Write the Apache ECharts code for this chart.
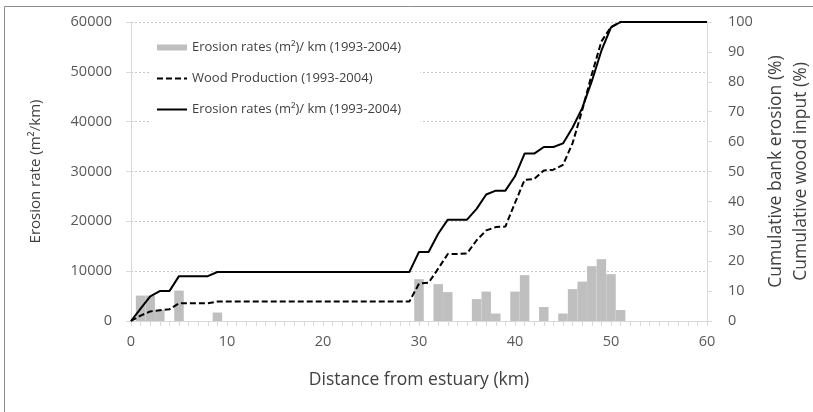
<!DOCTYPE html>
<html>
<head>
<meta charset="utf-8">
<script src="https://cdn.jsdelivr.net/npm/echarts@6/dist/echarts.min.js"></script>
<style>
  html, body { margin: 0; padding: 0; background: #fff; }
  #main { width: 813px; height: 412px; }
</style>
</head>
<body>
<div id="main"></div>
<script>
// distance from estuary (km) for the cumulative curves
const distKm = [0,1,2,3,4,5,6,7,8,9,10,11,12,13,14,15,16,17,18,19,20,21,22,23,24,25,26,27,28,29,30,
  31,32,33,34,35,36,37,38,39,40,41,42,43,44,45,46,47,48,49,50,51,52,53,54,55,56,57,58,59,60];

// erosion rate bars (m2/km)
const barKm = [1,2,3,5,9,30,32,33,36,37,38,40,41,43,45,46,47,48,49,50,51];
const barValues = [5100,5100,2200,6100,1700,8400,7400,5800,4400,5900,1500,5900,9200,2800,1500,6400,7900,11000,12400,9400,2200];

// cumulative wood input (%)
const woodCum = [0,1.8,3.2,3.6,3.9,5.9,5.9,5.9,5.9,6.5,
  6.5,6.5,6.5,6.5,6.5,6.5,6.5,6.5,6.5,6.5,6.5,6.5,6.5,6.5,6.5,6.5,6.5,6.5,6.5,6.5,
  12.5,12.8,17.5,22.4,22.4,22.6,27.0,30.3,31.4,31.6,39.5,47.2,47.5,50.3,50.6,52.2,59.5,70.5,82.5,93.5,98.3,100,
  100,100,100,100,100,100,100,100,100];

// cumulative bank erosion (%)
const erosionCum = [0,4.1,8.2,10.0,10.0,15.0,15.0,15.0,15.0,16.4,
  16.4,16.4,16.4,16.4,16.4,16.4,16.4,16.4,16.4,16.4,16.4,16.4,16.4,16.4,16.4,16.4,16.4,16.4,16.4,16.4,
  23.1,23.1,29.2,33.9,33.9,33.9,37.5,42.3,43.6,43.6,48.4,56.0,56.0,58.2,58.2,59.4,64.7,71.2,80.2,90.4,98.2,100,
  100,100,100,100,100,100,100,100,100];

const nameBars = 'Erosion rates (m²)/ km (1993-2004)';
const nameWood = 'Wood Production (1993-2004)';
const nameCum = 'Erosion rates (m²)/ km (1993-2004) '; // trailing space keeps legend entries apart

const chart = echarts.init(document.getElementById('main'), null, { renderer: 'canvas' });

const font = "'Open Sans', sans-serif";
const axisGray = '#d9d9d9';
const textGray = '#595959';

const option = {
  animation: false,
  backgroundColor: '#fff',
  textStyle: { fontFamily: font },
  graphic: [{
    type: 'rect',
    shape: { x: 4.5, y: 6.5, width: 830, height: 430 },
    style: { fill: 'none', stroke: '#8c8c8c', lineWidth: 1 },
    silent: true
  }],
  grid: { left: 131, right: 106, top: 22, bottom: 91, outerBoundsMode: 'none', containLabel: false },
  legend: {
    orient: 'vertical',
    left: 150,
    top: 35,
    padding: [6, 16, 6, 6],
    backgroundColor: '#fff',
    itemWidth: 30,
    itemHeight: 6,
    itemGap: 18,
    textStyle: { fontFamily: font, fontSize: 13, color: '#404040' },
    data: [
      { name: nameBars, icon: 'rect' },
      { name: nameWood, itemStyle: { opacity: 0 } },
      { name: nameCum, itemStyle: { opacity: 0 } }
    ]
  },
  xAxis: {
    type: 'value',
    min: 0, max: 60, interval: 10,
    name: 'Distance from estuary (km)',
    nameLocation: 'middle',
    nameGap: 50,
    nameTextStyle: { fontSize: 17.5, color: '#404040', fontFamily: font },
    axisLine: { show: true, lineStyle: { color: axisGray, width: 1 } },
    axisTick: { show: true, length: 5, lineStyle: { color: axisGray } },
    minorTick: { show: true, splitNumber: 10, length: 5, lineStyle: { color: axisGray } },
    axisLabel: { fontSize: 14.5, color: textGray, margin: 13 },
    splitLine: { show: false }
  },
  yAxis: [{
    type: 'value',
    min: 0, max: 60000, interval: 10000,
    name: 'Erosion rate (m²/km)',
    nameLocation: 'middle',
    nameRotate: 90,
    nameGap: 88,
    nameTextStyle: { fontSize: 15, color: '#404040', fontFamily: font },
    axisLine: { show: true, lineStyle: { color: axisGray } },
    axisTick: { show: true, length: 5, lineStyle: { color: axisGray } },
    axisLabel: { fontSize: 14.5, color: textGray, margin: 19, formatter: v => String(v) },
    splitLine: { show: true, lineStyle: { color: '#c8c8c8', type: [2, 2] } }
  }, {
    type: 'value',
    min: 0, max: 100, interval: 10,
    name: 'Cumulative bank erosion (%)\nCumulative wood input (%)',
    nameLocation: 'middle',
    nameRotate: 90,
    nameGap: 50,
    nameTextStyle: { fontSize: 17.5, color: '#404040', fontFamily: font, lineHeight: 25 },
    axisLine: { show: true, lineStyle: { color: axisGray } },
    axisTick: { show: true, length: 5, lineStyle: { color: axisGray } },
    axisLabel: { fontSize: 14.5, color: textGray, margin: 21 },
    splitLine: { show: false }
  }],
  series: [{
    name: nameBars,
    type: 'bar',
    yAxisIndex: 0,
    barWidth: 9.5,
    itemStyle: { color: '#bfbfbf' },
    data: barKm.map((k, i) => [k, barValues[i]])
  }, {
    name: nameWood,
    type: 'line',
    yAxisIndex: 1,
    symbol: 'none',
    lineStyle: { color: '#000', width: 2, type: [6, 3] },
    itemStyle: { color: '#000' },
    data: distKm.map((k, i) => [k, woodCum[i]])
  }, {
    name: nameCum,
    type: 'line',
    yAxisIndex: 1,
    symbol: 'none',
    lineStyle: { color: '#000', width: 2 },
    itemStyle: { color: '#000' },
    data: distKm.map((k, i) => [k, erosionCum[i]])
  }]
};

chart.setOption(option);
</script>
</body>
</html>
